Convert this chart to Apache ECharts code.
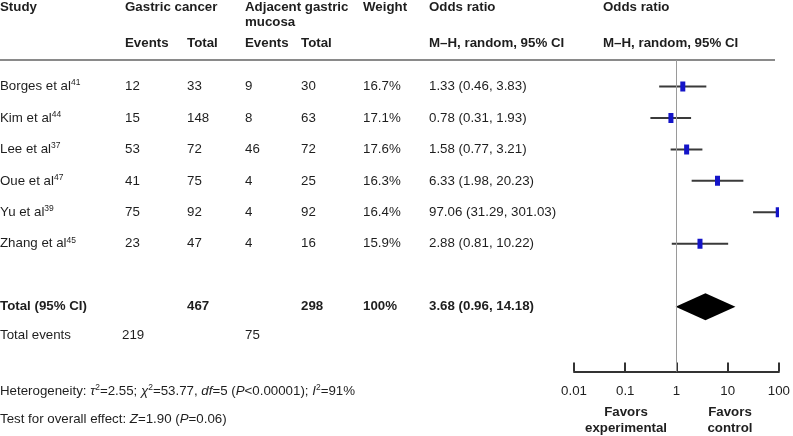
<!DOCTYPE html>
<html>
<head>
<meta charset="utf-8">
<script src="https://cdn.jsdelivr.net/npm/echarts@6/dist/echarts.min.js"></script>
<style>
html,body{margin:0;padding:0;background:#fff;}
#chart{width:793px;height:436px;}
</style>
</head>
<body>
<div id="chart"></div>
<script>
// ---- data ----
const studies = ['Borges et al', 'Kim et al', 'Lee et al', 'Oue et al', 'Yu et al', 'Zhang et al'];
const refs = ['41', '44', '37', '47', '39', '45'];
const gcEvents = [12, 15, 53, 41, 75, 23];
const gcTotal = [33, 148, 72, 75, 92, 47];
const adjEvents = [9, 8, 46, 4, 4, 4];
const adjTotal = [30, 63, 72, 25, 92, 16];
const weights = ['16.7%', '17.1%', '17.6%', '16.3%', '16.4%', '15.9%'];
const oddsRatio = [1.33, 0.78, 1.58, 6.33, 97.06, 2.88];
const ciLow = [0.46, 0.31, 0.77, 1.98, 31.29, 0.81];
const ciHigh = [3.83, 1.93, 3.21, 20.23, 301.03, 10.22];
const pooledOR = 3.68;
const pooledLow = 0.96;
const pooledHigh = 14.18;
const gcTotalSum = 467;
const adjTotalSum = 298;
const gcEventsSum = 219;
const adjEventsSum = 75;
const totalWeight = '100%';
const axisTicks = [0.01, 0.1, 1, 10, 100];

// ---- layout ----
const FONT = '"Liberation Sans", Arial, Helvetica, sans-serif';
const FS = 13.3;
const TXT = '#1e1e1e';
const ROW0 = 86.5, ROWH = 31.45, GRID_TOP = 60, GRID_BOTTOM_Y = 371.5;
const TOTAL_ROW = 7;
const rowPx = i => ROW0 + ROWH * i;
const yMin = -(ROW0 - GRID_TOP) / ROWH;
const yMax = yMin + (GRID_BOTTOM_Y - GRID_TOP) / ROWH;

const colX = {study: 0, e1: 125, t1: 187, e2: 245, t2: 301, w: 363, or: 429, forest: 603};

const graphics = [];
function txt(x, y, text, opts) {
  opts = opts || {};
  const fw = opts.bold ? 'bold' : 'normal';
  graphics.push({
    type: 'text', left: x, top: y - 8, silent: true,
    style: {
      text: text, x: 0, y: 0,
      font: (opts.bold ? 'bold ' : '') + FS + 'px ' + FONT,
      fontSize: FS, fontWeight: fw, fontFamily: FONT,
      fill: TXT, lineHeight: 16,
      rich: {
        sup: {fontSize: 8.5, fontFamily: FONT, verticalAlign: 'top', lineHeight: 16, fill: TXT, padding: [0,0,6,0]},
        i: {fontSize: FS, fontStyle: 'italic', fontFamily: FONT, fill: TXT, lineHeight: 16},
        n: {fontSize: FS, fontFamily: FONT, fill: TXT, lineHeight: 16}
      }
    }
  });
}

// headers
txt(colX.study, 7, 'Study', {bold: true});
txt(colX.e1, 7, 'Gastric cancer', {bold: true});
txt(colX.e2, 7, 'Adjacent gastric', {bold: true});
txt(colX.e2, 22, 'mucosa', {bold: true});
txt(colX.w, 7, 'Weight', {bold: true});
txt(colX.or, 7, 'Odds ratio', {bold: true});
txt(colX.forest, 7, 'Odds ratio', {bold: true});
txt(colX.e1, 43, 'Events', {bold: true});
txt(colX.t1, 43, 'Total', {bold: true});
txt(colX.e2, 43, 'Events', {bold: true});
txt(colX.t2, 43, 'Total', {bold: true});
txt(colX.or, 43, 'M\u2013H, random, 95% CI', {bold: true});
txt(colX.forest, 43, 'M\u2013H, random, 95% CI', {bold: true});

// study rows
studies.forEach((s, i) => {
  const y = rowPx(i);
  txt(colX.study, y, '{n|' + s + '}{sup|' + refs[i] + '}');
  txt(colX.e1, y, String(gcEvents[i]));
  txt(colX.t1, y, String(gcTotal[i]));
  txt(colX.e2, y, String(adjEvents[i]));
  txt(colX.t2, y, String(adjTotal[i]));
  txt(colX.w, y, weights[i]);
  txt(colX.or, y, oddsRatio[i].toFixed(2) + ' (' + ciLow[i].toFixed(2) + ', ' + ciHigh[i].toFixed(2) + ')');
});

// total rows
const yT = rowPx(TOTAL_ROW);
txt(colX.study, yT, 'Total (95% CI)', {bold: true});
txt(colX.t1, yT, String(gcTotalSum), {bold: true});
txt(colX.t2, yT, String(adjTotalSum), {bold: true});
txt(colX.w, yT, totalWeight, {bold: true});
txt(colX.or, yT, pooledOR.toFixed(2) + ' (' + pooledLow.toFixed(2) + ', ' + pooledHigh.toFixed(2) + ')', {bold: true});
txt(colX.study, 335, 'Total events');
txt(122, 335, String(gcEventsSum));
txt(colX.e2, 335, String(adjEventsSum));
txt(colX.study, 391, '{n|Heterogeneity: }{i|\u03c4}{sup|2}{n|=2.55; }{i|\u03c7}{sup|2}{n|=53.77, }{i|df}{n|=5 (}{i|P}{n|<0.00001); }{i|I}{sup|2}{n|=91%}');
txt(colX.study, 419, '{n|Test for overall effect: }{i|Z}{n|=1.90 (}{i|P}{n|=0.06)}');

// favors labels
graphics.push({type: 'text', left: 626 - 60, top: 404, silent: true,
  style: {text: 'Favors\nexperimental', width: 120, align: 'center', x: 60, textAlign: 'center', font: 'bold ' + FS + 'px ' + FONT, fontWeight: 'bold', fontSize: FS, fontFamily: FONT, fill: TXT, lineHeight: 16}});
graphics.push({type: 'text', left: 730 - 60, top: 404, silent: true,
  style: {text: 'Favors\ncontrol', width: 120, align: 'center', x: 60, textAlign: 'center', font: 'bold ' + FS + 'px ' + FONT, fontWeight: 'bold', fontSize: FS, fontFamily: FONT, fill: TXT, lineHeight: 16}});

// header rule
graphics.push({type: 'line', silent: true, shape: {x1: 0, y1: 60, x2: 775, y2: 60}, style: {stroke: '#8a8a8a', lineWidth: 2}});

const studyData = studies.map((s, i) => [oddsRatio[i], i, ciLow[i], ciHigh[i]]);
const pooledData = [[pooledOR, TOTAL_ROW, pooledLow, pooledHigh]];

const chart = echarts.init(document.getElementById('chart'), null, {renderer: 'canvas'});
chart.setOption({
  animation: false,
  backgroundColor: '#fff',
  textStyle: {fontFamily: FONT},
  grid: {left: 574, right: 793 - 782, top: GRID_TOP, bottom: 436 - GRID_BOTTOM_Y, containLabel: false},
  xAxis: {
    type: 'log', logBase: 10, min: axisTicks[0], max: axisTicks[axisTicks.length - 1],
    position: 'bottom',
    axisLine: {show: true, onZero: false, lineStyle: {color: '#333', width: 2}},
    axisTick: {show: true, inside: true, length: 9, lineStyle: {color: '#333', width: 2}},
    splitLine: {show: false},
    axisLabel: {color: TXT, fontSize: FS, fontFamily: FONT, margin: 13,
      formatter: v => String(+(+v).toPrecision(3))},
    minorTick: {show: false}
  },
  yAxis: {type: 'value', inverse: true, min: yMin, max: yMax, show: false},
  graphic: graphics,
  series: [
    {
      type: 'custom', name: 'studies', clip: true,
      encode: {x: 0, y: 1},
      data: studyData,
      renderItem: function (params, api) {
        const row = api.value(1);
        const p = api.coord([api.value(0), row]);
        const lo = api.coord([api.value(2), row]);
        const hi = api.coord([api.value(3), row]);
        return {
          type: 'group',
          children: [
            {type: 'line', shape: {x1: lo[0], y1: p[1], x2: hi[0], y2: p[1]}, style: {stroke: '#3a3a3a', lineWidth: 2}},
            {type: 'rect', shape: {x: p[0] - 2.5, y: p[1] - 5, width: 5, height: 10}, style: {fill: '#1414c8'}}
          ]
        };
      },
      markLine: {
        silent: true, symbol: 'none', label: {show: false},
        lineStyle: {color: '#9a9a9a', width: 1, type: 'solid'},
        data: [{xAxis: 1}]
      }
    },
    {
      type: 'custom', name: 'pooled', clip: true,
      encode: {x: 0, y: 1},
      data: pooledData,
      renderItem: function (params, api) {
        const row = api.value(1);
        const p = api.coord([api.value(0), row]);
        const lo = api.coord([api.value(2), row]);
        const hi = api.coord([api.value(3), row]);
        const h = 13.5;
        return {
          type: 'polygon',
          shape: {points: [[lo[0], p[1]], [p[0], p[1] - h], [hi[0], p[1]], [p[0], p[1] + h]]},
          style: {fill: '#000'}
        };
      }
    }
  ]
});
</script>
</body>
</html>
